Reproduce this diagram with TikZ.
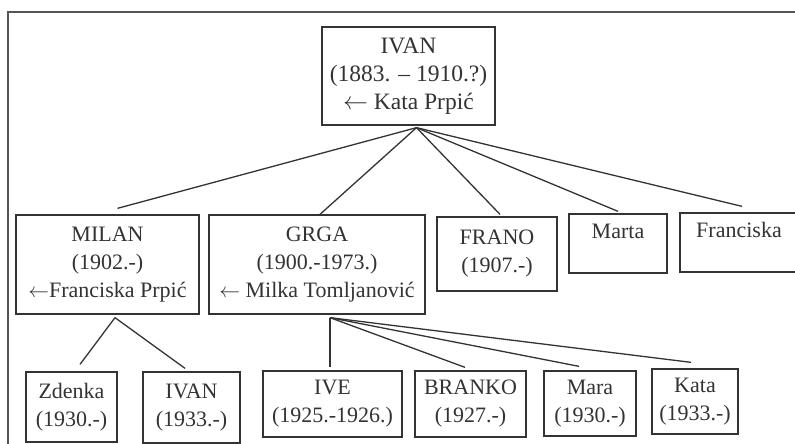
\documentclass[tikz,border=0pt]{standalone}
\usepackage{fontspec}
\setmainfont{Liberation Serif}
\definecolor{ink}{HTML}{333333}
\definecolor{frame}{HTML}{555555}
\newcommand{\larr}{\ensuremath{\leftarrow}}
\tikzset{
  person/.style={draw=ink, line width=1.3pt, inner sep=0pt, align=center,
    text=ink, font=\fontsize{22}{28}\selectfont},
  link/.style={draw=ink, line width=1.3pt},
}
\begin{document}
\begin{tikzpicture}[x=1pt,y=-1pt]
\useasboundingbox (0,0) rectangle (795,444);
\clip (0,0) rectangle (795,444);
\fill[white] (0,0) rectangle (795,444);
\draw[frame, line width=2pt] (8,450) -- (8,12) -- (800,12);
% top
\node[person, font=\fontsize{23.5}{28}\selectfont, minimum width=173pt, minimum height=98pt] (ivan) at (408.5,76) {IVAN\\(1883. – 1910.?)\\\larr{} Kata Prpić};
% second row
\node[person, minimum width=183pt, minimum height=99pt] (milan) at (107.5,264.5) {MILAN\\(1902.-)\\\larr Franciska Prpić};
\node[person, minimum width=216pt, minimum height=99pt] (grga) at (317,264.5) {GRGA\\(1900.-1973.)\\\larr{} Milka Tomljanović};
\node[person, minimum width=120pt, minimum height=74pt] (frano) at (497,254) {FRANO\\(1907.-)};
\node[person, minimum width=98pt, minimum height=59pt, text height=19pt, text depth=30pt] (marta) at (618,243.5) {Marta};
\node[person, minimum width=118pt, minimum height=59pt, text height=19pt, text depth=30pt] (fran) at (739,242.5) {Franciska};
% third row
\node[person, minimum width=91pt, minimum height=70pt] (zdenka) at (71.5,407) {Zdenka\\(1930.-)};
\node[person, minimum width=97pt, minimum height=71pt] (ivan2) at (191.5,407.5) {IVAN\\(1933.-)};
\node[person, minimum width=139pt, minimum height=66pt] (ive) at (332.5,404) {IVE\\(1925.-1926.)};
\node[person, minimum width=111pt, minimum height=66pt] (branko) at (470.5,404) {BRANKO\\(1927.-)};
\node[person, minimum width=92pt, minimum height=65pt] (mara) at (590,403.5) {Mara\\(1930.-)};
\node[person, minimum width=86pt, minimum height=65pt] (kata) at (695,401.5) {Kata\\(1933.-)};
% connectors
\coordinate (ivs) at ([xshift=8pt,yshift=-2pt]ivan.south);
\coordinate (mls) at ([xshift=7.5pt,yshift=-3pt]milan.south);
\coordinate (grs) at ([xshift=13pt,yshift=-3pt]grga.south);
\draw[link] (ivs) -- ([xshift=10pt,yshift=6pt]milan.north);
\draw[link] (ivs) -- ([xshift=3pt]grga.north);
\draw[link] (ivs) -- ([xshift=3pt,yshift=2pt]frano.north);
\draw[link] (ivs) -- ([yshift=2pt]marta.north);
\draw[link] (ivs) -- ([xshift=3pt,yshift=6pt]fran.north);
\draw[link] (mls) -- ([xshift=8.5pt,yshift=7pt]zdenka.north);
\draw[link] (mls) -- ([xshift=-6.5pt,yshift=3pt]ivan2.north);
\draw[link] (grs) -- ([xshift=-2.5pt,yshift=3pt]ive.north);
\draw[link] (grs) -- ([xshift=-5.5pt,yshift=3pt]branko.north);
\draw[link] (grs) -- ([xshift=-11pt,yshift=4pt]mara.north);
\draw[link] (grs) -- ([xshift=-4pt,yshift=6pt]kata.north);
\end{tikzpicture}
\end{document}
